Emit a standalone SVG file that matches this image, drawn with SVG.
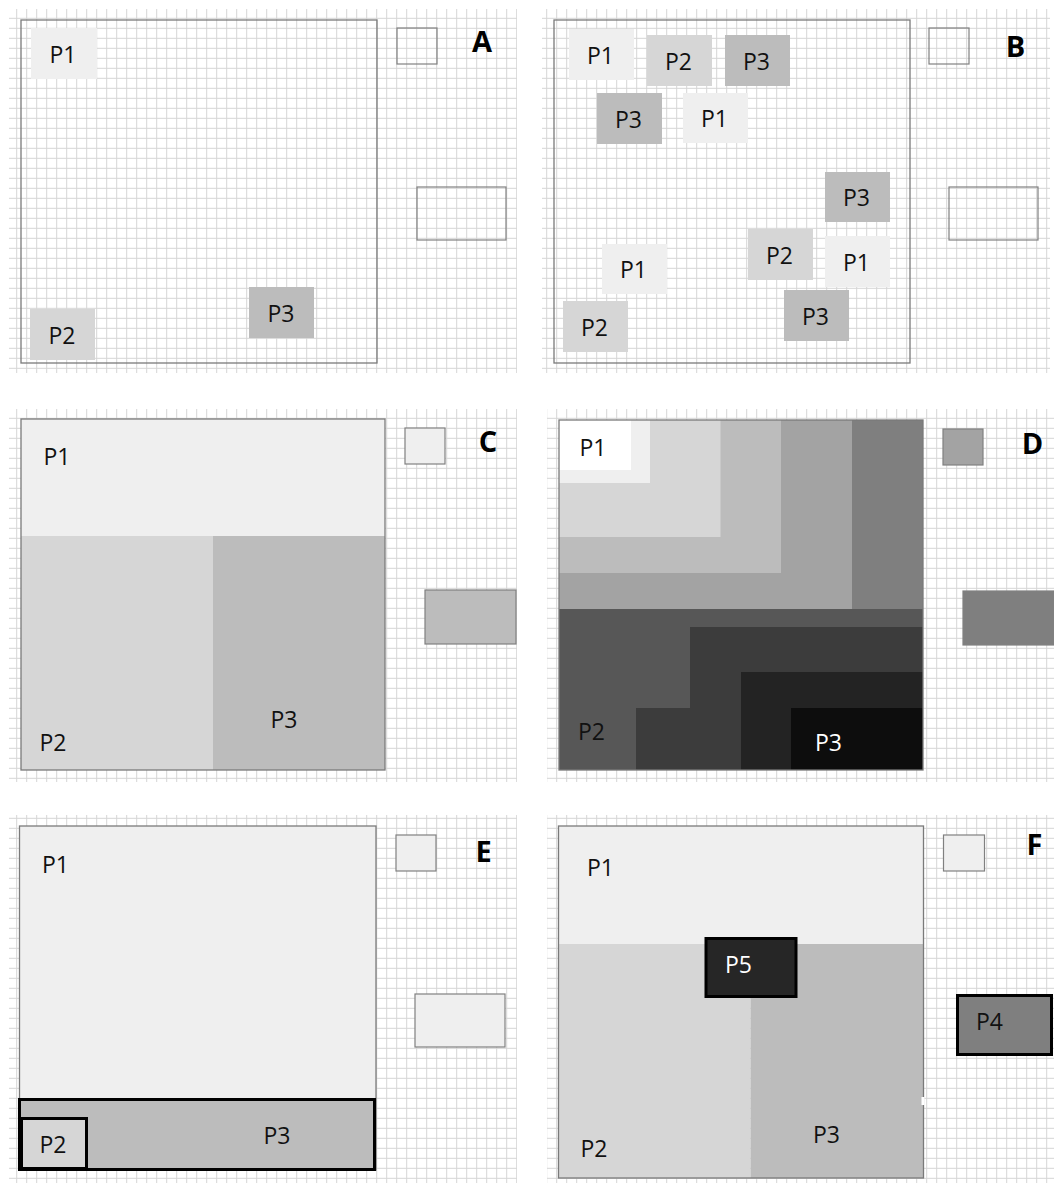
<svg xmlns="http://www.w3.org/2000/svg" width="1054" height="1185" viewBox="0 0 1054 1185">
<defs>
<pattern id="grid" x="6.2" y="7.8" width="10" height="10" patternUnits="userSpaceOnUse">
<path d="M0.5 0 V10 M0 0.5 H10" fill="none" stroke="#d5d5d5" stroke-width="1"/>
</pattern>
</defs>
<style>
.bg{fill:url(#grid);}
.frame{fill:none;stroke:#7a7a7a;stroke-width:1.3;}
.key{stroke:#808080;stroke-width:1.2;}
.thick{stroke:#000;stroke-width:3;}
.p1{fill:#efefef;}
.p2{fill:#d6d6d6;}
.p3{fill:#bcbcbc;}
.lbl{font-family:"Open Sans","Noto Sans","Liberation Sans",sans-serif;font-size:23px;fill:#111;text-anchor:middle;}
.wht{fill:#fff;}
.tag{font-family:"Open Sans","Noto Sans","Liberation Sans",sans-serif;font-size:29px;font-weight:bold;fill:#000;text-anchor:middle;}
</style>
<rect width="1054" height="1185" fill="#fff"/>

<!-- Panel A -->
<g id="panelA">
<rect class="bg" x="9" y="9" width="508" height="364"/>
<rect class="frame" x="21" y="20" width="356" height="343"/>
<g id="A-P1"><rect class="p1" x="31" y="28" width="66" height="51"/><text class="lbl" x="63" y="63">P1</text></g>
<g id="A-P2"><rect class="p2" x="30" y="309" width="65" height="51"/><text class="lbl" x="62" y="344">P2</text></g>
<g id="A-P3"><rect class="p3" x="249" y="287" width="65" height="51"/><text class="lbl" x="281" y="322">P3</text></g>
<rect class="key" fill="none" x="397" y="28" width="40" height="36"/>
<rect class="key" fill="none" x="417" y="187" width="89" height="53"/>
<text class="tag" x="482" y="52">A</text>
</g>

<!-- Panel B -->
<g id="panelB">
<rect class="bg" x="542" y="9" width="508" height="364"/>
<rect class="frame" x="554" y="20" width="356" height="343"/>
<g id="B-P1a"><rect class="p1" x="569" y="29" width="65" height="51"/><text class="lbl" x="600.5" y="64">P1</text></g>
<g id="B-P2a"><rect class="p2" x="647" y="35" width="65" height="51"/><text class="lbl" x="678.5" y="70">P2</text></g>
<g id="B-P3a"><rect class="p3" x="725" y="35" width="65" height="51"/><text class="lbl" x="756.5" y="70">P3</text></g>
<g id="B-P3b"><rect class="p3" x="597" y="93" width="65" height="51"/><text class="lbl" x="628.5" y="128">P3</text></g>
<g id="B-P1b"><rect class="p1" x="683" y="93" width="65" height="50"/><text class="lbl" x="714.5" y="127">P1</text></g>
<g id="B-P3c"><rect class="p3" x="825" y="172" width="65" height="50"/><text class="lbl" x="856.5" y="206">P3</text></g>
<g id="B-P2b"><rect class="p2" x="748" y="229" width="65" height="51"/><text class="lbl" x="779.5" y="264">P2</text></g>
<g id="B-P1c"><rect class="p1" x="825" y="236" width="65" height="51"/><text class="lbl" x="856.5" y="271">P1</text></g>
<g id="B-P1d"><rect class="p1" x="602" y="244" width="65" height="50"/><text class="lbl" x="633.5" y="278">P1</text></g>
<g id="B-P2c"><rect class="p2" x="563" y="301" width="65" height="51"/><text class="lbl" x="594.5" y="336">P2</text></g>
<g id="B-P3d"><rect class="p3" x="784" y="290" width="65" height="51"/><text class="lbl" x="815.5" y="325">P3</text></g>
<rect class="key" fill="none" x="929" y="28" width="40" height="36"/>
<rect class="key" fill="none" x="949" y="187" width="89" height="53"/>
<text class="tag" x="1015.5" y="57">B</text>
</g>

<!-- Panel C -->
<g id="panelC">
<rect class="bg" x="9" y="409" width="508" height="373"/>
<g id="C-P1"><rect class="p1" x="21" y="419" width="364" height="117"/><text class="lbl" x="57" y="465">P1</text></g>
<g id="C-P2"><rect class="p2" x="21" y="536" width="192" height="234"/><text class="lbl" x="53" y="751">P2</text></g>
<g id="C-P3"><rect class="p3" x="213" y="536" width="172" height="234"/><text class="lbl" x="284" y="728">P3</text></g>
<rect class="frame" x="21" y="419" width="364" height="351"/>
<rect class="key p1" x="405" y="428" width="40" height="36"/>
<rect class="key p3" x="425" y="590" width="91" height="54"/>
<text class="tag" x="488" y="452">C</text>
</g>

<!-- Panel D -->
<g id="panelD">
<rect class="bg" x="547" y="409" width="507" height="373"/>
<rect x="559" y="420" width="364" height="350" fill="#575757"/>
<rect x="559" y="420" width="364" height="189" fill="#7f7f7f"/>
<rect x="559" y="420" width="293" height="189" fill="#a3a3a3"/>
<rect x="559" y="420" width="222" height="153" fill="#bcbcbc"/>
<rect x="559" y="420" width="161.5" height="117" fill="#d6d6d6"/>
<rect x="559" y="420" width="91" height="63" fill="#efefef"/>
<rect x="559" y="420" width="72" height="50" fill="#ffffff"/>
<polygon points="690,627 923,627 923,770 636,770 636,708 690,708" fill="#3c3c3c"/>
<rect x="741" y="672" width="182" height="98" fill="#232323"/>
<rect x="791" y="708" width="132" height="62" fill="#0d0d0d"/>
<rect class="frame" x="559" y="420" width="364" height="350"/>
<g id="D-P1"><text class="lbl" x="593" y="456">P1</text></g>
<g id="D-P2"><text class="lbl" x="591.5" y="740">P2</text></g>
<g id="D-P3"><text class="lbl wht" x="828.5" y="751">P3</text></g>
<rect class="key" fill="#a3a3a3" x="943" y="429" width="40" height="36"/>
<rect class="key" fill="#7f7f7f" x="963" y="591" width="91" height="54"/>
<text class="tag" x="1032.5" y="454">D</text>
</g>

<!-- Panel E -->
<g id="panelE">
<rect class="bg" x="9" y="815" width="508" height="368"/>
<g id="E-P1"><rect class="frame" style="fill:#efefef" x="19.5" y="826" width="356.5" height="344"/><text class="lbl" x="55.5" y="873">P1</text></g>
<g id="E-P3"><rect class="p3 thick" x="19.5" y="1099.5" width="355" height="70"/><text class="lbl" x="277" y="1144">P3</text></g>
<g id="E-P2"><rect class="p2 thick" x="21.5" y="1118.5" width="65" height="50"/><text class="lbl" x="53" y="1153">P2</text></g>
<rect class="key p1" x="396" y="835" width="40" height="36"/>
<rect class="key p1" x="415" y="994" width="90" height="53"/>
<text class="tag" x="483.5" y="862">E</text>
</g>

<!-- Panel F -->
<g id="panelF">
<rect class="bg" x="547" y="815" width="507" height="368"/>
<g id="F-P1"><rect class="p1" x="558.5" y="826" width="365" height="118"/><text class="lbl" x="600.5" y="876">P1</text></g>
<g id="F-P2"><rect class="p2" x="558.5" y="944" width="192" height="234"/><text class="lbl" x="594" y="1157">P2</text></g>
<g id="F-P3"><rect class="p3" x="750.5" y="944" width="173" height="234"/><text class="lbl" x="826.5" y="1143">P3</text></g>
<rect class="frame" x="558.5" y="826" width="365" height="352"/>
<rect x="921.5" y="1097" width="3" height="8" fill="#fff"/>
<g id="F-P5"><rect class="thick" fill="#262626" x="706" y="938.5" width="90" height="58"/><text class="lbl wht" x="738.5" y="973">P5</text></g>
<g id="F-P4"><rect class="thick" fill="#7f7f7f" x="957.5" y="995.5" width="94" height="59"/><text class="lbl" x="989.5" y="1030">P4</text></g>
<rect class="key p1" x="943.5" y="835" width="41" height="36"/>
<text class="tag" x="1034.5" y="855">F</text>
</g>

<g id="connectors"></g>
</svg>
